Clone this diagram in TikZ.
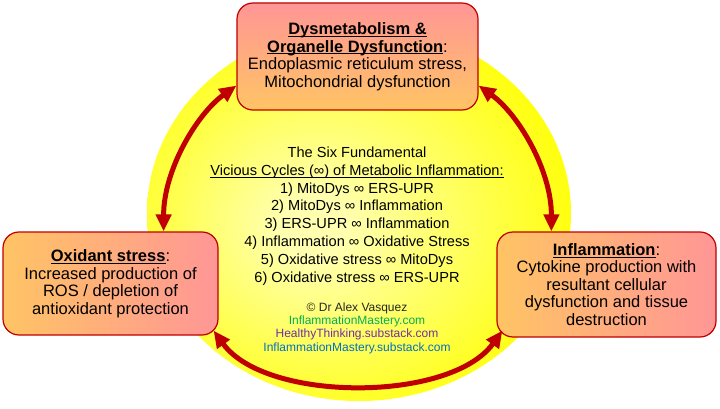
\documentclass[tikz,border=0pt]{standalone}
\usepackage{fontspec}
\setmainfont{Liberation Sans}
\usetikzlibrary{arrows.meta,shadings}
\definecolor{boxred}{RGB}{192,0,0}
\definecolor{arrred}{RGB}{192,0,0}
\definecolor{orng}{RGB}{255,196,100}
\definecolor{pnk}{RGB}{255,150,150}
\definecolor{paleyel}{RGB}{255,255,175}
\definecolor{fullyel}{RGB}{255,255,0}
\definecolor{webgreen}{RGB}{0,176,80}
\definecolor{webpurple}{RGB}{112,48,160}
\definecolor{webblue}{RGB}{0,112,192}
\pgfdeclareradialshading{glow}{\pgfpoint{-6bp}{-2bp}}{color(0bp)=(paleyel); color(4bp)=(paleyel); color(30bp)=(fullyel); color(50bp)=(fullyel)}
\newcommand{\ulx}[1]{\sbox0{#1}\rlap{\rule[-2.4pt]{\wd0}{1.1pt}}\usebox0}
\tikzset{
  box/.style={draw=boxred, line width=1.2pt, rounded corners=16pt, align=center, inner sep=0pt,
    font=\fontsize{16.5}{17.5}\selectfont},
  hbox/.style={box, left color=orng, right color=pnk},
  vbox/.style={box, top color=pnk, bottom color=orng},
  cyc/.style={draw=arrred, line width=5pt,
    arrows={Triangle[length=17pt,width=15pt]-Triangle[length=17pt,width=15pt]}},
  cycles/.style={align=center, inner sep=0pt, font=\fontsize{14.6}{17.8}\selectfont},
  credit/.style={align=center, inner sep=0pt, font=\fontsize{12}{13.3}\selectfont},
}
\begin{document}
\begin{tikzpicture}[x=1pt,y=-1pt]
\useasboundingbox (0,0) rectangle (720,409);
\shade[shading=glow] (359,213) ellipse [x radius=212, y radius=188];

\node[vbox, minimum width=241pt, minimum height=107pt] (topbox) at (357.5,56.5)
  {\ulx{\textbf{Dysmetabolism \&}}\\\ulx{\textbf{Organelle Dysfunction}}:\\Endoplasmic reticulum stress,\\Mitochondrial dysfunction};
\node[hbox, minimum width=215pt, minimum height=103pt] (leftbox) at (110.5,283.5)
  {\ulx{\textbf{Oxidant stress}}:\\Increased production of\\ROS / depletion of\\antioxidant protection};
\node[hbox, minimum width=219pt, minimum height=105pt] (rightbox) at (606.5,284.5)
  {\ulx{\textbf{Inflammation}}:\\Cytokine production with\\resultant cellular\\dysfunction and tissue\\destruction};

\node[cycles] (list) at (357,216)
  {The Six Fundamental\\\ulx{Vicious Cycles (∞) of Metabolic Inflammation:}\\
   1) MitoDys ∞ ERS-UPR\\2) MitoDys ∞ Inflammation\\3) ERS-UPR ∞ Inflammation\\
   4) Inflammation ∞ Oxidative Stress\\5) Oxidative stress ∞ MitoDys\\6) Oxidative stress ∞ ERS-UPR};
\node[credit] (credit) at (357,328)
  {\textcolor{black!85}{© Dr Alex Vasquez}\\\textcolor{webgreen}{InflammationMastery.com}\\
   \textcolor{webpurple}{HealthyThinking.substack.com}\\\textcolor{webblue}{InflammationMastery.substack.com}};

\draw[cyc] ([xshift=-55pt]leftbox.north east) .. controls +(0,-62) and +(-39,28) .. ([yshift=25pt]topbox.south west);
\draw[cyc] ([xshift=55pt]rightbox.north west) .. controls +(0,-62) and +(39,28) .. ([yshift=25pt]topbox.south east);
\draw[cyc] ([xshift=-5pt,yshift=5pt]leftbox.south east) .. controls +(52,72) and +(-52,72) .. ([xshift=6pt,yshift=7pt]rightbox.south west);
\end{tikzpicture}
\end{document}
